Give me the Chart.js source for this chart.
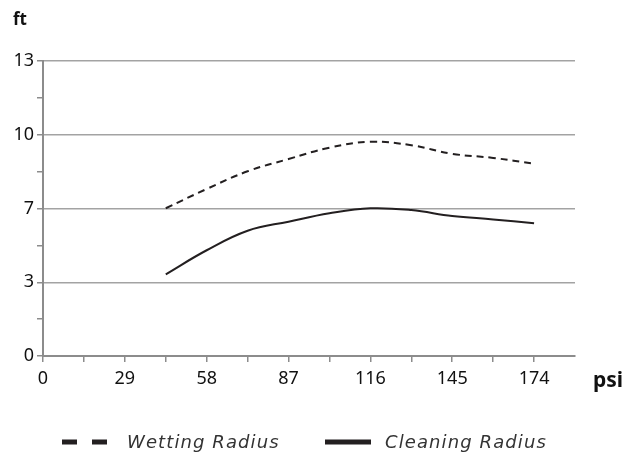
<!DOCTYPE html>
<html>
<head>
<meta charset="utf-8">
<script src="https://cdn.jsdelivr.net/npm/chart.js@4/dist/chart.umd.min.js"></script>
<style>
html,body{margin:0;padding:0;background:#fff;}
#wrap{width:636px;height:453px;position:relative;}
</style>
</head>
<body>
<div id="wrap"><canvas id="c" width="636" height="453"></canvas></div>
<script>
const pressurePsi = [43.5, 58, 72.5, 87, 101.5, 116, 130.5, 145, 159.5, 174];
const wettingRadiusFt = [6.51, 7.36, 8.14, 8.68, 9.18, 9.44, 9.29, 8.91, 8.73, 8.47];
const cleaningRadiusFt = [3.6, 4.66, 5.52, 5.92, 6.29, 6.51, 6.43, 6.17, 6.02, 5.85];
const xTickLabels = [0, 29, 58, 87, 116, 145, 174];
const yTickLabels = [0, 3, 7, 10, 13];
const seriesNames = ['Wetting Radius', 'Cleaning Radius'];
const xUnit = 'psi';
const yUnit = 'ft';

const FONT = '"Noto Sans", sans-serif';
const GRID = '#a3a3a3';
const AXIS = '#8c8c8c';
const INK = '#231f20';

const unitLabels = {
  id: 'unitLabels',
  afterDraw(chart) {
    const ctx = chart.ctx;
    ctx.save();
    ctx.fillStyle = '#111';
    ctx.textBaseline = 'alphabetic';
    ctx.textAlign = 'left';
    ctx.font = 'bold 17px ' + FONT;
    ctx.fillText(yUnit, 13, 25);
    ctx.font = 'bold 21px ' + FONT;
    ctx.fillText(xUnit, 593, 387);
    ctx.restore();
  }
};

// legend drawn from the datasets' labels and styles
const bottomLegend = {
  id: 'bottomLegend',
  afterDraw(chart) {
    const ctx = chart.ctx;
    const slots = [{ sx: 62, tx: 127 }, { sx: 325, tx: 385 }];
    const cy = 442;
    ctx.save();
    chart.data.datasets.forEach((ds, i) => {
      const s = slots[i];
      ctx.beginPath();
      ctx.setLineDash(ds.borderDash ? [15, 15] : []);
      ctx.lineWidth = 5;
      ctx.strokeStyle = ds.borderColor;
      ctx.moveTo(s.sx, cy);
      ctx.lineTo(s.sx + 46, cy);
      ctx.stroke();
      ctx.setLineDash([]);
      ctx.fillStyle = '#333';
      ctx.font = 'italic 18px "DejaVu Sans", sans-serif';
      ctx.letterSpacing = '1.1px';
      ctx.textBaseline = 'alphabetic';
      ctx.textAlign = 'left';
      ctx.fillText(ds.label, s.tx, 448);
      ctx.letterSpacing = '0px';
    });
    ctx.restore();
  }
};

new Chart(document.getElementById('c'), {
  type: 'line',
  data: {
    datasets: [
      {
        label: seriesNames[0],
        data: pressurePsi.map((x, i) => ({x, y: wettingRadiusFt[i]})),
        borderColor: INK,
        backgroundColor: INK,
        borderWidth: 2,
        borderDash: [7, 5],
        pointRadius: 0,
        tension: 0.4,
        fill: false
      },
      {
        label: seriesNames[1],
        data: pressurePsi.map((x, i) => ({x, y: cleaningRadiusFt[i]})),
        borderColor: INK,
        backgroundColor: INK,
        borderWidth: 2,
        pointRadius: 0,
        tension: 0.4,
        fill: false
      }
    ]
  },
  options: {
    responsive: false,
    animation: false,
    devicePixelRatio: 1,
    layout: { padding: { left: 0, right: 61, top: 61, bottom: 57 } },
    plugins: {
      tooltip: { enabled: false },
      legend: { display: false }
    },
    scales: {
      x: {
        type: 'linear',
        min: 0,
        max: 188.5,
        afterFit(s) { s.height = 40; },
        afterBuildTicks(s) {
          const t = [];
          for (let k = 0; k <= 12; k++) t.push({ value: k * 14.5 });
          s.ticks = t;
        },
        ticks: {
          autoSkip: false,
          maxRotation: 0,
          padding: 6,
          color: '#111',
          font: { family: FONT, size: 18 },
          callback(v) { return xTickLabels.includes(v) ? String(v) : ''; }
        },
        grid: {
          drawOnChartArea: false,
          drawTicks: true,
          tickLength: 6,
          tickColor(c) { return c.tick && c.tick.value > 174 ? 'rgba(0,0,0,0)' : AXIS; },
          lineWidth: 1.5
        },
        border: { color: AXIS, width: 2 }
      },
      y: {
        type: 'linear',
        min: 0,
        max: 13,
        afterFit(s) { s.width = 43; },
        afterBuildTicks(s) {
          const t = [];
          for (let k = 0; k <= 8; k++) t.push({ value: k * 13 / 8 });
          s.ticks = t;
        },
        ticks: {
          autoSkip: false,
          padding: 3,
          color: '#111',
          font: { family: FONT, size: 18 },
          callback(v, i) { return i % 2 === 0 ? String(yTickLabels[i / 2]) : ''; }
        },
        grid: {
          color(c) { return c.index % 2 === 0 ? GRID : 'rgba(0,0,0,0)'; },
          tickColor: AXIS,
          tickLength: 6,
          lineWidth: 1.5
        },
        border: { color: AXIS, width: 2 }
      }
    }
  },
  plugins: [unitLabels, bottomLegend]
});
</script>
</body>
</html>
